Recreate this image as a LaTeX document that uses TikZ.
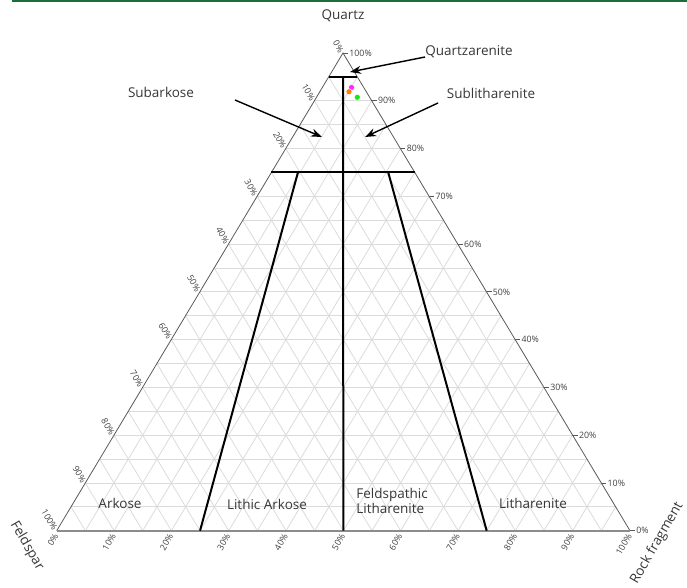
\documentclass[tikz,border=0pt]{standalone}
\usepackage{fontspec}
\setmainfont{Open Sans}
\usetikzlibrary{calc,arrows.meta}
\definecolor{bandgreen}{RGB}{27,110,60}
\definecolor{labelgray}{RGB}{55,55,55}
\definecolor{dotmagenta}{RGB}{255,40,255}
\definecolor{dotorange}{RGB}{255,125,10}
\definecolor{dotgreen}{RGB}{20,235,20}
\begin{document}
\begin{tikzpicture}[x=1pt,y=-1pt,
  gridline/.style={draw=black!14, line width=0.8pt},
  edge/.style={draw=black!65, line width=0.8pt},
  field/.style={draw, line width=2pt},
  pointer/.style={draw, line width=1.4pt, -{Stealth[length=11pt,width=8pt]}},
  rocklabel/.style={text=labelgray, font=\fontsize{13.5}{15}\selectfont, align=left},
  ticklabel/.style={text=black!75, font=\fontsize{8.8}{10}\selectfont, inner sep=1pt},
  sample/.style={circle, draw=white, line width=0.4pt, inner sep=0pt, minimum size=6pt}]
\useasboundingbox (0,0) rectangle (687,587);
\draw[bandgreen, line width=2.5pt] (12,1) -- (687,1);
% corners
\coordinate (Q) at (343,53);
\coordinate (F) at (56.7,530.7);
\coordinate (R) at (630,530.7);
% grid every 5%
\foreach \i in {1,...,19}{
  \path[gridline] ($(F)!\i/20!(Q)$) -- ($(R)!\i/20!(Q)$);
  \path[gridline] ($(F)!\i/20!(R)$) -- ($(F)!\i/20!(Q)$);
  \path[gridline] ($(R)!\i/20!(F)$) -- ($(R)!\i/20!(Q)$);
}
\path[edge] (F) -- (Q) -- (R);
\path[edge, draw=black!45, line width=1.6pt] (F) -- (R);
% axis ticks
\foreach \i in {0,...,10}{
  \pgfmathtruncatemacro{\pc}{10*\i}
  \coordinate (qt) at ($(R)!\i/10!(Q)$);
  \draw[edge] (qt) -- ++(5,0) node[ticklabel, anchor=west] {\pc\%};
  \coordinate (ft) at ($(Q)!\i/10!(F)$);
  \node[ticklabel, rotate=-60, anchor=east] at ($(ft)+(-1,0)$) {\pc\%};
  \coordinate (rt) at ($(F)!\i/10!(R)$);
  \node[ticklabel, rotate=60, anchor=east] at ($(rt)+(0,3)$) {\pc\%};
}
% axis titles
\node[rocklabel] (qtitle) at (343,16) {Quartz};
\node[rocklabel, rotate=-60, inner sep=1pt] (ftitle) at (27,546) {Feldspar};
\node[rocklabel, rotate=60, inner sep=1pt] (rtitle) at (657,543) {Rock fragment};
% class boundaries
\coordinate (q95l) at ($(F)!0.95!(Q)$);
\coordinate (q95r) at ($(R)!0.95!(Q)$);
\coordinate (q75l) at ($(F)!0.75!(Q)$);
\coordinate (q75r) at ($(R)!0.75!(Q)$);
\coordinate (top mid) at ($(q95l)!0.5!(q95r)$);
\coordinate (base mid) at ($(F)!0.5!(R)$);
\coordinate (la top) at ($(q75l)!0.185!(q75r)$);
\coordinate (la base) at ($(F)!0.25!(R)$);
\coordinate (lt top) at ($(q75l)!0.815!(q75r)$);
\coordinate (lt base) at ($(F)!0.75!(R)$);
\path[field] (q95l) -- (q95r);
\path[field] (q75l) -- (q75r);
\path[field] (top mid) -- (base mid);
\path[field] (la top) -- (la base);
\path[field] (lt top) -- (lt base);
% class names
\node[rocklabel] (qa) at (469,52) {Quartzarenite};
\node[rocklabel] (sl) at (491,93) {Sublitharenite};
\node[rocklabel] (sa) at (161,92) {Subarkose};
\node[rocklabel] (ak) at (120,503) {Arkose};
\node[rocklabel] (la) at (267,504) {Lithic Arkose};
\node[rocklabel] (fl) at (392,501) {Feldspathic\\Litharenite};
\node[rocklabel] (lt) at (533,503) {Litharenite};
% pointers
\coordinate (qa start) at (425,57);
\coordinate (qa tip) at (350,72);
\coordinate (sl start) at (438,103);
\coordinate (sl tip) at (365,137);
\coordinate (sa start) at (235,100);
\coordinate (sa tip) at (322,137);
\path[pointer] (qa start) -- (qa tip);
\path[pointer] (sl start) -- (sl tip);
\path[pointer] (sa start) -- (sa tip);
% samples
\node[sample, fill=dotmagenta] (s1) at (351.5,87.5) {};
\node[sample, fill=dotorange] (s2) at (349,91.7) {};
\node[sample, fill=dotgreen] (s3) at (357.3,97.3) {};
\end{tikzpicture}
\end{document}
